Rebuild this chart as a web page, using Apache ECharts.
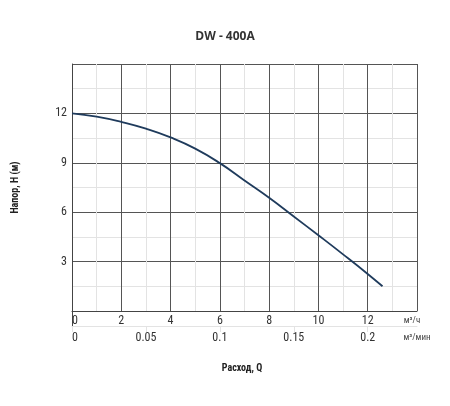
<!DOCTYPE html>
<html><head><meta charset="utf-8">
<script src="https://cdn.jsdelivr.net/npm/echarts@6/dist/echarts.min.js"></script>
<style>html,body{margin:0;padding:0;background:#fff}#c{width:450px;height:406px}</style>
</head><body><div id="c"></div>
<script>
var title = 'DW - 400A';
var flowM3h = [0, 1, 2, 3, 4, 5, 6, 7, 8, 9, 10, 11, 12, 12.6];
var headM = [12, 11.8, 11.48, 11.07, 10.54, 9.86, 8.98, 7.93, 6.88, 5.74, 4.6, 3.44, 2.25, 1.5];
var unitTop = 'м³/ч';
var unitBottom = 'м³/мин';
var yName = 'Напор, Н (м)';
var xName = 'Расход, Q';

var labFont = "'Roboto Condensed', Roboto, sans-serif";
var chart = echarts.init(document.getElementById('c'));
var data = flowM3h.map(function (x, i) { return [x, headM[i]]; });
chart.setOption({
  animation: false,
  title: { text: title, left: 'center', top: 26, textStyle: { fontFamily: "'Open Sans', sans-serif", fontSize: 12, fontWeight: 'bold', color: '#333' } },
  grid: { left: 72, right: 33, top: 64, bottom: 95 },
  xAxis: [{
    type: 'value', min: 0, max: 14, interval: 2, position: 'bottom',
    name: xName, nameLocation: 'middle', nameGap: 52,
    nameTextStyle: { fontFamily: labFont, fontWeight: 'bold', fontSize: 10, color: '#222', padding: [0, 5, 0, 0] },
    axisLine: { show: true, lineStyle: { color: '#444', width: 1 } },
    axisTick: { show: false },
    axisLabel: { fontFamily: labFont, fontSize: 12, color: '#333', margin: 4, showMaxLabel: false, alignMinLabel: 'left' },
    splitLine: { show: true, lineStyle: { color: '#555', width: 1 } },
    minorTick: { show: false, splitNumber: 2 },
    minorSplitLine: { show: true, lineStyle: { color: '#e3e3e3', width: 1 } }
  }, {
    type: 'value', min: 0, max: 14 / 60, interval: 0.05, position: 'bottom', offset: 15,
    axisLine: { show: true, lineStyle: { color: '#e3e3e3', width: 1 } },
    axisTick: { show: true, length: 6, lineStyle: { color: '#e3e3e3' } },
    axisLabel: { fontFamily: labFont, fontSize: 12, color: '#333', margin: 6, showMaxLabel: false, alignMinLabel: 'left' },
    splitLine: { show: false }
  }],
  yAxis: {
    type: 'value', min: 0, max: 15, interval: 3,
    name: yName, nameLocation: 'middle', nameGap: 52, nameRotate: 90,
    nameTextStyle: { fontFamily: labFont, fontWeight: 'bold', fontSize: 10, color: '#222' },
    axisLine: { show: true, lineStyle: { color: '#444' } },
    axisTick: { show: false },
    axisLabel: { fontFamily: labFont, fontSize: 12, color: '#333', margin: 5, showMaxLabel: false, showMinLabel: false },
    splitLine: { show: true, lineStyle: { color: '#555', width: 1 } },
    minorTick: { show: false, splitNumber: 2 },
    minorSplitLine: { show: true, lineStyle: { color: '#e3e3e3', width: 1 } }
  },
  series: [{
    type: 'line', xAxisIndex: 0, data: data, smooth: 0.5, showSymbol: false,
    lineStyle: { color: '#1f3b5c', width: 1.8 }
  }]
});
var p0 = chart.convertToPixel({ xAxisIndex: 0, yAxisIndex: 0 }, [0, 0]);
var p14 = chart.convertToPixel({ xAxisIndex: 0, yAxisIndex: 0 }, [14, 0]);
chart.setOption({
  graphic: [
    { type: 'line', shape: { x1: Math.round(p0[0]) + 0.5, y1: p0[1], x2: Math.round(p0[0]) + 0.5, y2: p0[1] + 15 }, style: { stroke: '#444', lineWidth: 1 } },
    { type: 'text', x: p14[0] - 5, y: p14[1] + 10, style: { text: unitTop, font: '9px ' + labFont, fill: '#444', align: 'center', verticalAlign: 'middle' } },
    { type: 'text', x: p14[0], y: p14[1] + 27, style: { text: unitBottom, font: '9px ' + labFont, fill: '#444', align: 'center', verticalAlign: 'middle' } }
  ]
});
</script></body></html>
